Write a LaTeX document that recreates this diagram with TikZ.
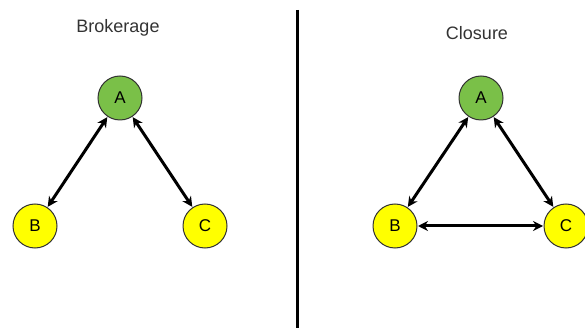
\documentclass[tikz,border=0pt]{standalone}
\usepackage{fontspec}
\setmainfont{Liberation Sans}
\definecolor{nodegreen}{RGB}{122, 192, 72}
\definecolor{nodeyellow}{RGB}{255, 255, 0}
\definecolor{rimgray}{RGB}{50, 50, 50}
\usetikzlibrary{arrows.meta, positioning}

\tikzset{
  actor/.style={circle, draw=rimgray, line width=1pt, minimum size=44pt, inner sep=0pt, font=\fontsize{17}{20}\selectfont},
  tie/.style={line width=3pt, {Stealth[length=10pt,width=10pt]}-{Stealth[length=10pt,width=10pt]}, shorten <=0.5pt, shorten >=0.5pt},
  heading/.style={font=\fontsize{18}{21}\selectfont, text=black!80}
}

\begin{document}
\begin{tikzpicture}[x=1pt, y=-1pt]
  \useasboundingbox (0,0) rectangle (585,328);

  % left: brokerage
  \node[heading] (brokerTitle) at (118,28) {Brokerage};
  \node[actor, fill=nodegreen] (lA) at (120,98) {A};
  \node[actor, fill=nodeyellow] (lB) at (35,226) {B};
  \node[actor, fill=nodeyellow] (lC) at (205,226) {C};
  \draw[tie] (lA) -- (lB);
  \draw[tie] (lA) -- (lC);

  % divider
  \coordinate (divTop) at (297,10);
  \coordinate (divBot) at (297,328);
  \draw[line width=3pt] (divTop) -- (divBot);

  % right: closure
  \node[heading] (closureTitle) at (477,33) {Closure};
  \node[actor, fill=nodegreen] (rA) at (481,98) {A};
  \node[actor, fill=nodeyellow] (rB) at (395,226) {B};
  \node[actor, fill=nodeyellow] (rC) at (566,226) {C};
  \draw[tie] (rA) -- (rB);
  \draw[tie] (rA) -- (rC);
  \draw[tie] (rB) -- (rC);
\end{tikzpicture}
\end{document}
